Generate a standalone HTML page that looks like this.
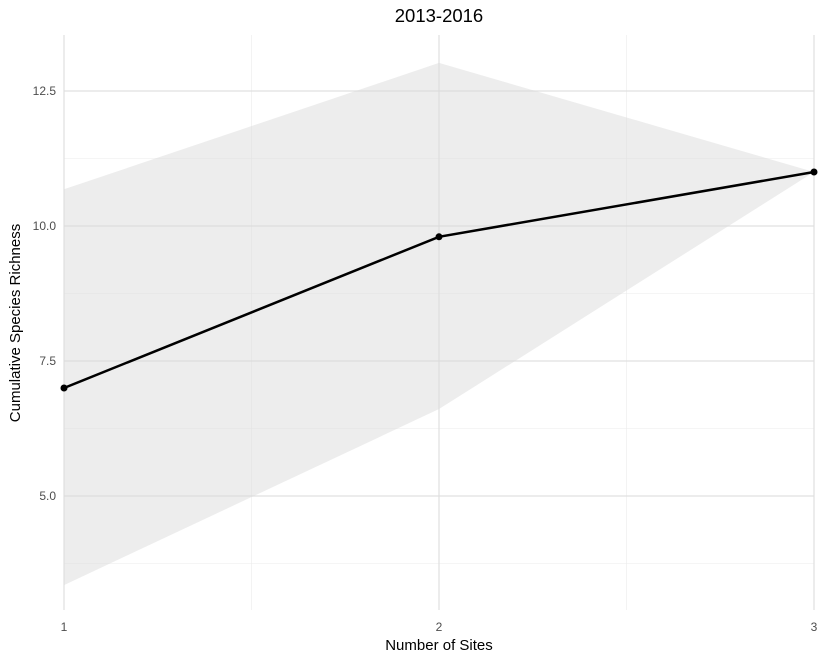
<!DOCTYPE html>
<html><head><meta charset="utf-8"><style>
body{margin:0;background:#fff;font-family:"Liberation Sans",sans-serif}
</style></head><body>
<svg id="chart" width="823" height="663" xmlns="http://www.w3.org/2000/svg" font-family="Liberation Sans, sans-serif">
<text x="439" y="22" text-anchor="middle" font-size="18.5" fill="#000">2013-2016</text>
<g id="grid"></g><g id="ribbon"></g><g id="line"></g><g id="axes"></g>
<text x="439" y="650" text-anchor="middle" font-size="15" fill="#000">Number of Sites</text>
<text transform="translate(20,323) rotate(-90)" text-anchor="middle" font-size="15" fill="#000">Cumulative Species Richness</text>
</svg>
<script>
const sites=[1,2,3];
const richness=[7.0,9.8,11.0];
const upper=[10.68,13.02,11.0];
const lower=[3.35,6.61,11.0];
const yTicks=[5.0,7.5,10.0,12.5];
const yMinor=[3.75,6.25,8.75,11.25];
const xTicks=[1,2,3];
const xMinor=[1.5,2.5];
const NS="http://www.w3.org/2000/svg";
const X=v=>64+(v-1)*375;
const Y=v=>226-(v-10)*54;
const top_=35,bot=610;
function mk(t,a,p){const e=document.createElementNS(NS,t);for(const k in a)e.setAttribute(k,a[k]);p.appendChild(e);return e;}
const g=document.getElementById('grid'),ax=document.getElementById('axes');
yMinor.forEach(v=>{const l=mk('line',{x1:64,x2:814,y1:Y(v),y2:Y(v),stroke:'#ebebeb','stroke-width':0.6},g);

});
xMinor.forEach(v=>{const l=mk('line',{x1:X(v),x2:X(v),y1:top_,y2:bot,stroke:'#ebebeb','stroke-width':0.6},g);

});
yTicks.forEach(v=>{const l=mk('line',{x1:64,x2:814,y1:Y(v),y2:Y(v),stroke:'#e0e0e0','stroke-width':1.2},g);


const t=mk('text',{x:56,y:Y(v)+4,'text-anchor':'end','font-size':12,fill:'#4d4d4d'},ax);t.textContent=v.toFixed(1);

});
xTicks.forEach(v=>{const l=mk('line',{x1:X(v),x2:X(v),y1:top_,y2:bot,stroke:'#e0e0e0','stroke-width':1.2},g);


const t=mk('text',{x:X(v),y:631,'text-anchor':'middle','font-size':12,fill:'#4d4d4d'},ax);t.textContent=v;

});
let pts=sites.map((s,i)=>X(s)+','+Y(upper[i]));
for(let i=sites.length-1;i>=0;i--)pts.push(X(sites[i])+','+Y(lower[i]));
const rib=mk('polygon',{points:pts.join(' '),fill:'#d9d9d9','fill-opacity':0.48},document.getElementById('ribbon'));


const lg=document.getElementById('line');
const pl=mk('polyline',{points:sites.map((s,i)=>X(s)+','+Y(richness[i])).join(' '),fill:'none',stroke:'#000','stroke-width':2.5},lg);


sites.forEach((s,i)=>{const c=mk('circle',{cx:X(s),cy:Y(richness[i]),r:3.5,fill:'#000'},lg);

});
</script>
</body></html>
